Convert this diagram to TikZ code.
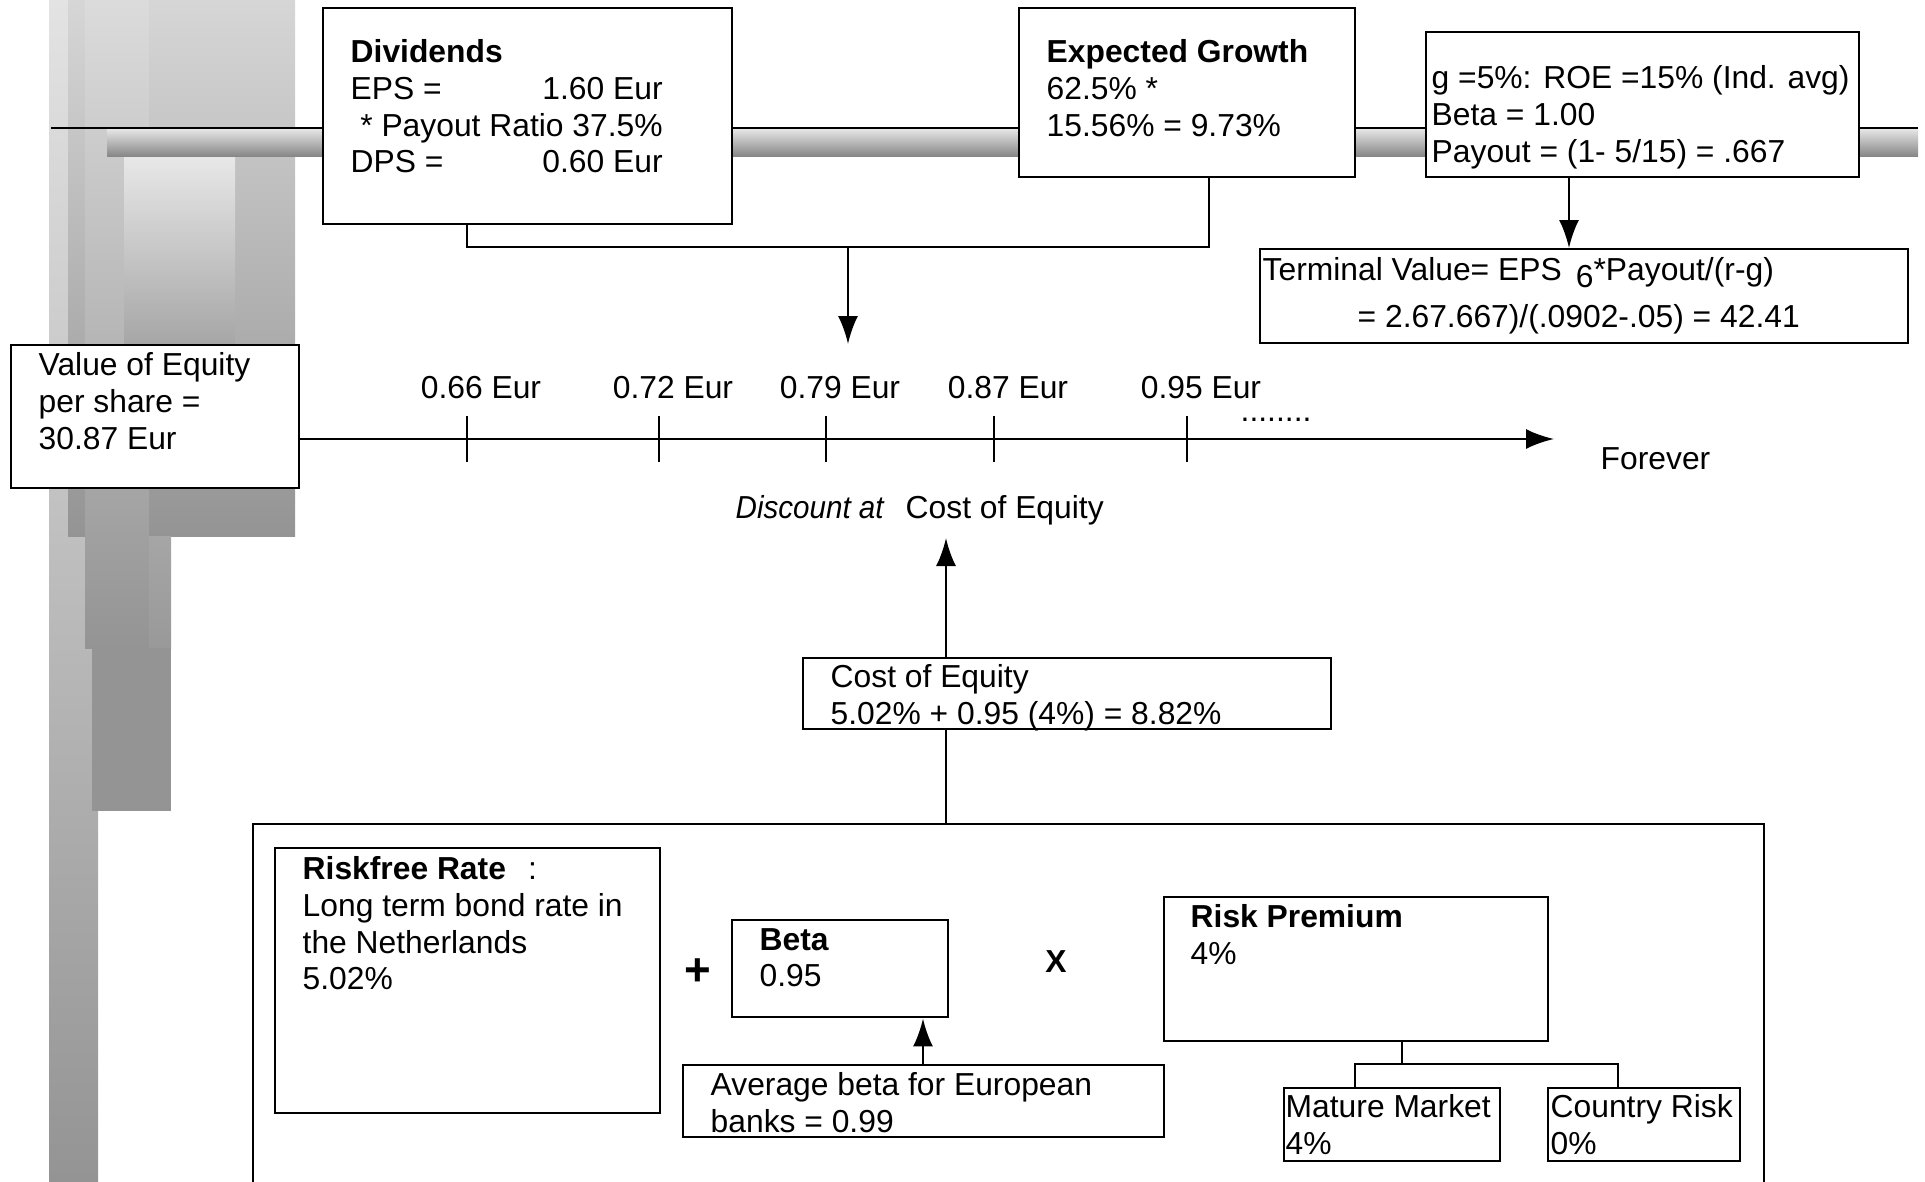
\documentclass[tikz,border=0pt]{standalone}
\usepackage{fontspec}
\setmainfont{Liberation Sans}
\usetikzlibrary{arrows.meta}
\newcommand{\basefont}{\fontsize{9.05pt}{10.5pt}\selectfont}
\tikzset{
    box/.style={draw,fill=white,line width=0.7pt,inner sep=0pt,anchor=north west},
    txt/.style={inner sep=0pt,anchor=north west,align=left,font=\basefont},
    lbl/.style={inner sep=0pt,anchor=base west,font=\basefont},
    line/.style={line width=0.7pt},
    arr/.style={line width=0.7pt,-{Latex[length=2.8mm,width=2mm]}},
    pillar/.style args={#1 to #2}{top color=#1,bottom color=#2}
}

\begin{document}
\begin{tikzpicture}[x=0.1mm,y=-0.1mm]
\useasboundingbox (0,0) rectangle (1925,1182);

% ========= Pillar (background) =========
\shade[pillar=black!11 to black!42] (49,0) rectangle (98,1182);
\shade[pillar=black!16 to black!42] (68,0) rectangle (295,536);
\shade[pillar=black!14 to black!42] (85,0) rectangle (149,648);
\shade[pillar=black!9 to black!35] (124,155) rectangle (235,345);
\shade[pillar=black!35 to black!40] (149,536) rectangle (171,648);
\fill[black!42] (92,648) rectangle (171,811);

% ========= Pipe =========
\draw[line] (51,128) -- (1918,128);
\shade[pillar=black!10 to black!47] (107,129) rectangle (1918,156);

% ========= Top row =========
\node[box,minimum width=40.9mm,minimum height=21.6mm] (div) at (322,7) {};
\node[txt] (divtxt) at (350,38.5) {\textbf{Dividends}\\
    \hbox to 31.2mm{EPS =\hfill 1.60 Eur}\\
    \hbox to 31.2mm{\hfill * Payout Ratio 37.5\%}\\
    \hbox to 31.2mm{DPS =\hfill 0.60 Eur}};

\node[box,minimum width=33.6mm,minimum height=16.9mm] (gro) at (1018,7) {};
\node[txt] (grotxt) at (1046,38.5) {\textbf{Expected Growth}\\62.5\% *\\15.56\% = 9.73\%};

\node[box,minimum width=43.3mm,minimum height=14.5mm] (gbox) at (1425,31) {};
\node[txt] (gtxt) at (1431,64.5) {g =5\%: ROE =15\% (Ind. avg)\\Beta = 1.00\\Payout = (1- 5/15) = .667};

\node[box,minimum width=64.8mm,minimum height=9.4mm] (tv) at (1259,248) {};
\node[txt] (tvtxt) at (1262,256.5) {Terminal Value= EPS\ \,\raisebox{-0.22em}{6}*Payout/(r-g)\\[1mm]
    \hspace*{9.5mm}= 2.67.667)/(.0902-.05) = 42.41};

% connectors top
\coordinate (j1) at (467,247);
\coordinate (j2) at (1209,247);
\coordinate (j3) at (848,247);
\coordinate (j3tip) at (848,344);
\draw[line] (div.south -| j1) -- (j1) -- (j2) -- (gro.south -| j2);
\draw[arr] (j3) -- (j3tip);
\coordinate (gx) at (1569,200);
\draw[arr] (gbox.south -| gx) -- (tv.north -| gx);

% ========= Time line =========
\node[box,minimum width=28.8mm,minimum height=14.3mm] (val) at (10,344) {};
\node[txt] (valtxt) at (38,351.5) {Value of Equity\\per share =\\30.87 Eur};

\coordinate (tlend) at (1554,439);
\draw[arr] (val.east |- tlend) -- (tlend);
\foreach \x/\v in {467/0.66,659/0.72,826/0.79,994/0.87,1187/0.95}
{
    \draw[line] (\x,416) -- (\x,462);
    \node[lbl,anchor=base] (t\x) at (\x+14,398.5) {\v\ Eur};
}
\node[lbl] (dots) at (1240,421) {........};
\node[lbl] (forever) at (1600,469.5) {Forever};
\node[lbl] (disc) at (735,518.5) {\scalebox{0.93}[1]{\itshape Discount at}};
\node[lbl] (disccoe) at (905,518.5) {Cost of Equity};

% ========= Cost of equity =========
\node[box,minimum width=52.8mm,minimum height=7.1mm] (coe) at (802,657) {};
\node[txt] (coetxt) at (830,663.5) {Cost of Equity\\5.02\% + 0.95 (4\%) = 8.82\%};
\coordinate (dtip) at (946,538);
\draw[arr] (coe.north -| dtip) -- (dtip);

% ========= Components =========
\node[box,minimum width=151.1mm,minimum height=40mm] (comp) at (252,823) {};
\draw[line] (coe.south -| dtip) -- (comp.north -| dtip);

\node[box,minimum width=38.5mm,minimum height=26.5mm] (rf) at (274,847) {};
\node[txt] (rftxt) at (302,855.5) {\textbf{Riskfree Rate}\hspace{2.2mm}:\\Long term bond rate in\\the Netherlands\\5.02\%};

\node[inner sep=0pt,font=\fontsize{13pt}{15pt}\selectfont\bfseries] (plus) at (698,972) {+};

\node[box,minimum width=21.6mm,minimum height=9.7mm] (beta) at (731,919) {};
\node[txt] (betatxt) at (759,927.5) {\textbf{Beta}\\0.95};

\node[box,minimum width=48.1mm,minimum height=7.2mm] (avg) at (682,1064) {};
\node[txt] (avgtxt) at (710,1071.5) {Average beta for European\\banks = 0.99};
\coordinate (bx) at (923,1090);
\draw[arr] (avg.north -| bx) -- (beta.south -| bx);

\node[inner sep=0pt,font=\basefont\bfseries] (times) at (1056,962) {X};

\node[box,minimum width=38.4mm,minimum height=14.4mm] (rp) at (1163,896) {};
\node[txt] (rptxt) at (1190,903.5) {\textbf{Risk Premium}\\4\%};

\node[box,minimum width=21.6mm,minimum height=7.3mm] (mm) at (1283,1087) {};
\node[txt] (mmtxt) at (1285,1093.5) {Mature Market\\4\%};
\node[box,minimum width=19.2mm,minimum height=7.3mm] (cr) at (1547,1087) {};
\node[txt] (crtxt) at (1550,1093.5) {Country Risk\\0\%};

\coordinate (rpj) at (1402,1064);
\coordinate (mmj) at (1355,1064);
\coordinate (crj) at (1618,1064);
\draw[line] (rp.south -| rpj) -- (rpj);
\draw[line] (mm.north -| mmj) -- (mmj) -- (crj) -- (cr.north -| crj);

\end{tikzpicture}
\end{document}
